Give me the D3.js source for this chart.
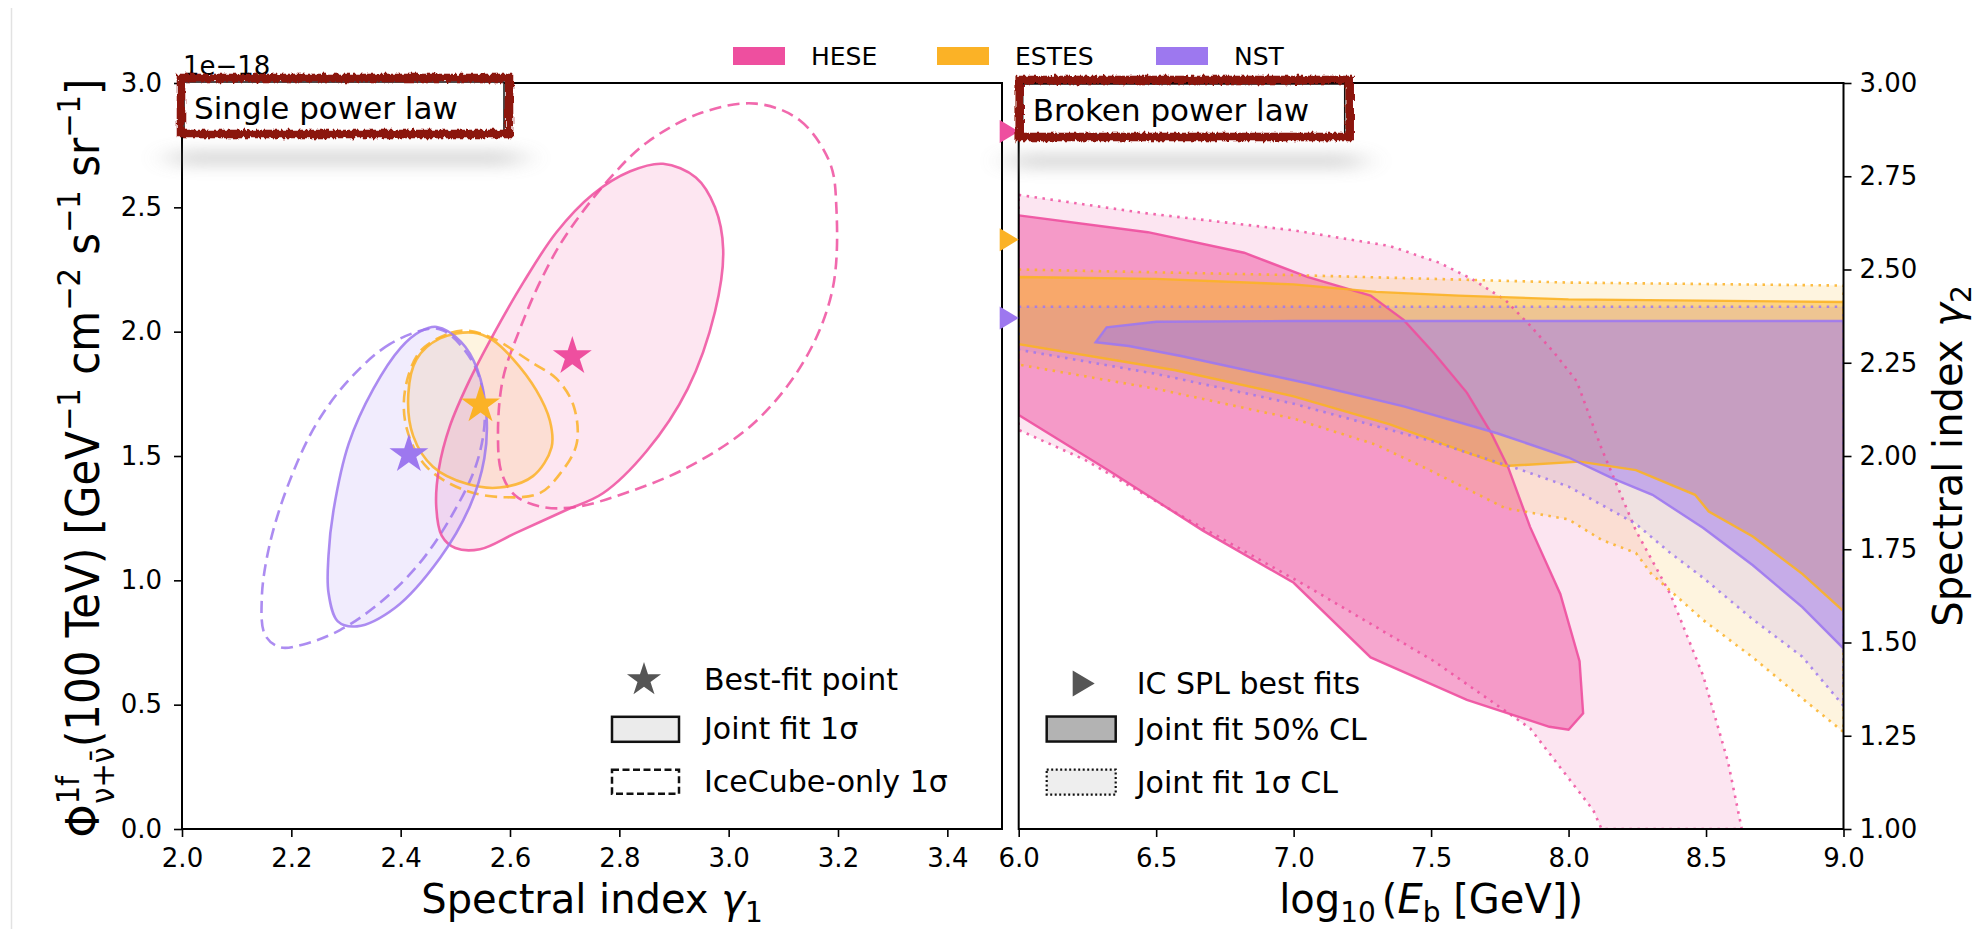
<!DOCTYPE html>
<html><head><meta charset="utf-8">
<script src="https://cdn.jsdelivr.net/npm/d3@7"></script>
<style>
body{margin:0;background:#fff;}
svg text{font-family:"DejaVu Sans",sans-serif;fill:#000;}
</style></head>
<body><svg id="c" width="1986" height="929"></svg>
<script>
// ---------------- data ----------------
const datasets = ["HESE", "ESTES", "NST"];
const colors = ["#ee4f9f", "#fbb226", "#9d78ef"];
const xTicksL = [2.0, 2.2, 2.4, 2.6, 2.8, 3.0, 3.2, 3.4];
const yTicksL = [0.0, 0.5, 1.0, 1.5, 2.0, 2.5, 3.0];
const xTicksR = [6.0, 6.5, 7.0, 7.5, 8.0, 8.5, 9.0];
const yTicksR = [1.00, 1.25, 1.50, 1.75, 2.00, 2.25, 2.50, 2.75, 3.00];

// best-fit points (gamma1, flux/1e-18)
const bestFit = [[2.714, 1.90], [2.546, 1.706], [2.415, 1.506]];
// IceCube SPL best-fit spectral indices
const splGamma = [2.87, 2.58, 2.37];

// Single power law: joint fit 1 sigma contours
const heseJoint = [[2.88,2.675],[2.94,2.62],[2.975,2.50],[2.99,2.33],[2.975,2.08],[2.925,1.77],[2.85,1.52],[2.77,1.35],[2.70,1.28],[2.61,1.19],[2.545,1.125],[2.50,1.13],[2.475,1.18],[2.465,1.30],[2.47,1.45],[2.49,1.62],[2.525,1.80],[2.57,1.99],[2.625,2.20],[2.685,2.40],[2.75,2.55],[2.82,2.645]];
const estesJoint = [[2.533,1.996],[2.472,1.973],[2.429,1.889],[2.414,1.75],[2.423,1.58],[2.459,1.457],[2.521,1.388],[2.581,1.373],[2.642,1.419],[2.676,1.535],[2.673,1.642],[2.648,1.765],[2.606,1.889],[2.569,1.965]];
const nstJoint = [[2.466,2.019],[2.51,1.96],[2.54,1.85],[2.557,1.66],[2.553,1.49],[2.527,1.30],[2.472,1.09],[2.39,0.89],[2.32,0.815],[2.285,0.835],[2.268,0.95],[2.268,1.10],[2.277,1.28],[2.305,1.55],[2.35,1.77],[2.40,1.935],[2.435,2.0]];
// Single power law: IceCube-only 1 sigma contours
const heseIC = [[3.05,2.917],[3.13,2.85],[3.185,2.68],[3.197,2.50],[3.19,2.17],[3.14,1.89],[3.05,1.64],[2.93,1.46],[2.81,1.35],[2.72,1.295],[2.66,1.295],[2.61,1.34],[2.585,1.43],[2.578,1.58],[2.587,1.81],[2.618,2.01],[2.655,2.20],[2.70,2.38],[2.78,2.61],[2.85,2.76],[2.95,2.88]];
const estesIC = [[2.521,2.004],[2.484,1.989],[2.435,1.919],[2.408,1.765],[2.411,1.611],[2.447,1.457],[2.52,1.36],[2.594,1.334],[2.654,1.35],[2.691,1.427],[2.722,1.55],[2.716,1.704],[2.685,1.811],[2.642,1.873],[2.569,1.973]];
const nstIC = [[2.453,2.012],[2.38,1.95],[2.307,1.81],[2.246,1.63],[2.197,1.40],[2.161,1.15],[2.146,0.93],[2.152,0.78],[2.179,0.731],[2.222,0.742],[2.289,0.80],[2.362,0.91],[2.435,1.07],[2.496,1.27],[2.539,1.47],[2.554,1.66],[2.542,1.83],[2.508,1.95],[2.478,2.004]];

// Broken power law: joint fit 50% CL regions (log10 Eb, gamma2)
const hese50 = [[6.0,2.645],[6.47,2.60],[6.82,2.545],[7.05,2.48],[7.28,2.43],[7.40,2.365],[7.51,2.276],[7.63,2.17],[7.72,2.06],[7.78,1.97],[7.86,1.81],[7.97,1.63],[8.04,1.45],[8.053,1.31],[8.0,1.266],[7.93,1.274],[7.63,1.346],[7.28,1.46],[7.0,1.66],[6.67,1.80],[6.33,1.96],[6.0,2.11]];
const estes50 = [[6.0,2.48],[6.5,2.475],[7.0,2.46],[7.3,2.44],[7.6,2.43],[8.0,2.42],[9.0,2.413],[9.0,1.584],[8.85,1.684],[8.67,1.784],[8.51,1.851],[8.46,1.896],[8.245,1.962],[8.04,1.985],[7.77,1.973],[7.59,2.02],[7.35,2.085],[7.0,2.16],[6.57,2.23],[6.0,2.30]];
const nst50 = [[6.28,2.305],[6.32,2.345],[6.5,2.36],[7.0,2.362],[8.0,2.362],[9.0,2.362],[9.0,1.484],[8.85,1.595],[8.67,1.707],[8.49,1.807],[8.305,1.896],[8.16,1.94],[8.0,1.996],[7.74,2.061],[7.40,2.133],[7.05,2.195],[6.59,2.268],[6.40,2.295]];
// Broken power law: joint fit 1 sigma CL regions
const hese1s = [[6.0,2.70],[6.45,2.652],[7.0,2.605],[7.35,2.563],[7.53,2.518],[7.65,2.474],[7.77,2.418],[7.86,2.35],[7.95,2.275],[8.03,2.20],[8.12,2.02],[8.245,1.80],[8.37,1.63],[8.49,1.41],[8.58,1.18],[8.63,1.0],[8.12,1.0],[8.09,1.05],[7.86,1.27],[7.51,1.45],[7.05,1.65],[6.59,1.84],[6.24,1.99],[6.0,2.07]];
const estes1s = [[6.0,2.50],[7.0,2.485],[8.0,2.465],[9.0,2.457],[9.0,1.26],[8.85,1.35],[8.67,1.46],[8.49,1.56],[8.3,1.685],[8.245,1.74],[8.12,1.775],[8.0,1.83],[7.77,1.86],[7.5,1.96],[7.3,2.03],[7.0,2.10],[6.5,2.18],[6.0,2.245]];
const nst1s = [[6.0,2.40],[9.0,2.40],[9.0,1.33],[8.85,1.462],[8.67,1.562],[8.49,1.673],[8.37,1.74],[8.245,1.818],[8.0,1.918],[7.83,1.962],[7.5,2.04],[7.0,2.14],[6.5,2.22],[6.0,2.285]];

const jointSPL = [heseJoint, estesJoint, nstJoint];
const icSPL = [heseIC, estesIC, nstIC];
const bpl50 = [hese50, estes50, nst50];
const bpl1s = [hese1s, estes1s, nst1s];

// ---------------- layout ----------------
const svg = d3.select("#c");
const L = {x0: 182, x1: 1002, y0: 83, y1: 829};
const R = {x0: 1018.7, x1: 1843.5, y0: 83, y1: 829};
const xL = d3.scaleLinear().domain([2.0, 3.5]).range([L.x0, L.x1]);
const yL = d3.scaleLinear().domain([0, 3]).range([L.y1, L.y0]);
const xR = d3.scaleLinear().domain([6, 9]).range([R.x0, R.x1]);
const yR = d3.scaleLinear().domain([1, 3]).range([R.y1, R.y0]);

const defs = svg.append("defs");
defs.append("clipPath").attr("id", "clipL").append("rect")
  .attr("x", L.x0).attr("y", L.y0).attr("width", L.x1 - L.x0).attr("height", L.y1 - L.y0);
defs.append("clipPath").attr("id", "clipR").append("rect")
  .attr("x", R.x0).attr("y", R.y0).attr("width", R.x1 - R.x0).attr("height", R.y1 - R.y0);
const rough = defs.append("filter").attr("id", "rough")
  .attr("x", "-5%").attr("y", "-30%").attr("width", "110%").attr("height", "160%");
rough.append("feTurbulence").attr("type", "fractalNoise").attr("baseFrequency", "0.35 0.09")
  .attr("numOctaves", 2).attr("seed", 3).attr("result", "n");
rough.append("feDisplacementMap").attr("in", "SourceGraphic").attr("in2", "n")
  .attr("scale", 6).attr("xChannelSelector", "R").attr("yChannelSelector", "G");
const blur = defs.append("filter").attr("id", "blurF")
  .attr("x", "-30%").attr("y", "-400%").attr("width", "160%").attr("height", "900%");
blur.append("feGaussianBlur").attr("stdDeviation", "16 8");

// faint page edge line
svg.append("line").attr("x1", 11.5).attr("x2", 11.5).attr("y1", 8).attr("y2", 929)
  .attr("stroke", "#e2e2e2").attr("stroke-width", 1.5);

// ---------------- left panel ----------------
const gL = svg.append("g");
const gLc = gL.append("g").attr("clip-path", "url(#clipL)");
const closedL = d3.line().x(d => xL(d[0])).y(d => yL(d[1])).curve(d3.curveCatmullRomClosed.alpha(0.5));

jointSPL.forEach((c, i) => {
  gLc.append("path").attr("d", closedL(c)).attr("fill", colors[i]).attr("fill-opacity", 0.14).attr("stroke", "none");
});
icSPL.forEach((c, i) => {
  gLc.append("path").attr("d", closedL(c)).attr("fill", "none").attr("stroke", colors[i])
    .attr("stroke-opacity", 0.85).attr("stroke-width", 2.6).attr("stroke-dasharray", "12,6.5");
});
jointSPL.forEach((c, i) => {
  gLc.append("path").attr("d", closedL(c)).attr("fill", "none").attr("stroke", colors[i])
    .attr("stroke-opacity", 0.85).attr("stroke-width", 2.6);
});
const star = d3.symbol().type(d3.symbolStar).size(470);
gL.selectAll(".bf").data(bestFit).join("path").attr("class", "bf")
  .attr("d", star).attr("transform", d => `translate(${xL(d[0])},${yL(d[1])})`)
  .attr("fill", (d, i) => colors[i]);

// axes left
const axBL = gL.append("g").attr("transform", `translate(0,${L.y1})`)
  .call(d3.axisBottom(xL).tickValues(xTicksL).tickFormat(d3.format(".1f")).tickSize(8).tickPadding(12).tickSizeOuter(0));
const axLL = gL.append("g").attr("transform", `translate(${L.x0},0)`)
  .call(d3.axisLeft(yL).tickValues(yTicksL).tickFormat(d3.format(".1f")).tickSize(8).tickPadding(12).tickSizeOuter(0));
[axBL, axLL].forEach(a => {
  a.selectAll("text").attr("font-size", 26).attr("font-family", "DejaVu Sans");
  a.selectAll("line").attr("stroke-width", 1.6);
  a.select(".domain").remove();
});
gL.append("rect").attr("x", L.x0).attr("y", L.y0).attr("width", L.x1 - L.x0).attr("height", L.y1 - L.y0)
  .attr("fill", "none").attr("stroke", "#000").attr("stroke-width", 2);
gL.append("text").attr("x", L.x0 + 1).attr("y", L.y0 - 8).attr("font-size", 26).text("1e\u221218");

// left legend
const legL = gL.append("g");
const lx = xL(2.0) + 430, ly = yL(0.6);
legL.append("path").attr("d", d3.symbol().type(d3.symbolStar).size(360)())
  .attr("transform", `translate(${lx + 32},${ly})`).attr("fill", "#555");
legL.append("text").attr("x", lx + 92).attr("y", ly + 10).attr("font-size", 30).text("Best-fit point");
legL.append("rect").attr("x", lx).attr("y", ly + 37).attr("width", 67).attr("height", 25)
  .attr("fill", "#ebebeb").attr("stroke", "#111").attr("stroke-width", 2.5);
legL.append("text").attr("x", lx + 92).attr("y", ly + 59).attr("font-size", 30).text("Joint fit 1\u03C3");
legL.append("rect").attr("x", lx).attr("y", ly + 90).attr("width", 67).attr("height", 24)
  .attr("fill", "#fff").attr("stroke", "#111").attr("stroke-width", 2.5).attr("stroke-dasharray", "7,3.5");
legL.append("text").attr("x", lx + 92).attr("y", ly + 112).attr("font-size", 30).text("IceCube-only 1\u03C3");

// left labels
const xlabL = gL.append("text").attr("x", (L.x0 + L.x1) / 2).attr("y", 913).attr("text-anchor", "middle").attr("font-size", 40);
xlabL.append("tspan").text("Spectral index ");
xlabL.append("tspan").attr("font-style", "italic").text("\u03B3");
xlabL.append("tspan").attr("font-size", 28).attr("dy", 9).text("1");

const ylabL = gL.append("text").attr("transform", `translate(99,${(L.y0 + L.y1) / 2 + 2}) rotate(-90) scale(1,1.12)`)
  .attr("text-anchor", "middle").attr("font-size", 42);
ylabL.append("tspan").text("\u03A6");
ylabL.append("tspan").attr("font-size", 29).attr("dy", -18).text("1f");
ylabL.append("tspan").attr("font-size", 29).attr("dx", -28).attr("dy", 31).text("\u03BD+\u03BD\u0304");
ylabL.append("tspan").attr("dy", -13).text("(100 TeV) [GeV");
ylabL.append("tspan").attr("font-size", 29).attr("dy", -17).text("\u22121");
ylabL.append("tspan").attr("dy", 17).text(" cm");
ylabL.append("tspan").attr("font-size", 29).attr("dy", -17).text("\u22122");
ylabL.append("tspan").attr("dy", 17).text(" s");
ylabL.append("tspan").attr("font-size", 29).attr("dy", -17).text("\u22121");
ylabL.append("tspan").attr("dy", 17).text(" sr");
ylabL.append("tspan").attr("font-size", 29).attr("dy", -17).text("\u22121");
ylabL.append("tspan").attr("dy", 17).text("]");

// ---------------- right panel ----------------
const gR = svg.append("g");
const gRc = gR.append("g").attr("clip-path", "url(#clipR)");
const closedR = d3.line().x(d => xR(d[0])).y(d => yR(d[1])).curve(d3.curveLinearClosed);
datasets.forEach((name, i) => {
  gRc.append("path").attr("d", closedR(bpl1s[i])).attr("fill", colors[i]).attr("fill-opacity", 0.15).attr("stroke", "none");
  gRc.append("path").attr("d", closedR(bpl50[i])).attr("fill", colors[i]).attr("fill-opacity", 0.5).attr("stroke", "none");
});
datasets.forEach((name, i) => {
  gRc.append("path").attr("d", closedR(bpl1s[i])).attr("fill", "none").attr("stroke", colors[i])
    .attr("stroke-opacity", 0.85).attr("stroke-width", 2.6).attr("stroke-dasharray", "2.5,5.5");
  gRc.append("path").attr("d", closedR(bpl50[i])).attr("fill", "none").attr("stroke", colors[i])
    .attr("stroke-opacity", 0.9).attr("stroke-width", 2.4);
});

const axBR = gR.append("g").attr("transform", `translate(0,${R.y1})`)
  .call(d3.axisBottom(xR).tickValues(xTicksR).tickFormat(d3.format(".1f")).tickSize(8).tickPadding(12).tickSizeOuter(0));
const axRR = gR.append("g").attr("transform", `translate(${R.x1},0)`)
  .call(d3.axisRight(yR).tickValues(yTicksR).tickFormat(d3.format(".2f")).tickSize(8).tickPadding(8).tickSizeOuter(0));
[axBR, axRR].forEach(a => {
  a.selectAll("text").attr("font-size", 26).attr("font-family", "DejaVu Sans");
  a.selectAll("line").attr("stroke-width", 1.6);
  a.select(".domain").remove();
});
gR.append("rect").attr("x", R.x0).attr("y", R.y0).attr("width", R.x1 - R.x0).attr("height", R.y1 - R.y0)
  .attr("fill", "none").attr("stroke", "#000").attr("stroke-width", 2);

// IC SPL best-fit triangles at left edge
gR.selectAll(".tri").data(splGamma).join("path").attr("class", "tri")
  .attr("d", d => { const tx = xR(6.0), ty = yR(d); return `M${tx - 19},${ty - 11.5}L${tx},${ty}L${tx - 19},${ty + 11.5}Z`; })
  .attr("fill", (d, i) => colors[i]);

// right legend
const legR = gR.append("g");
const rx = xR(6.0) + 28, ry = yR(1.39);
legR.append("path").attr("d", `M${rx + 26},${ry - 13}L${rx + 48},${ry}L${rx + 26},${ry + 13}Z`).attr("fill", "#555");
legR.append("text").attr("x", rx + 90).attr("y", ry + 10).attr("font-size", 30).text("IC SPL best fits");
legR.append("rect").attr("x", rx).attr("y", ry + 33).attr("width", 69).attr("height", 25)
  .attr("fill", "#b3b3b3").attr("stroke", "#111").attr("stroke-width", 2.5);
legR.append("text").attr("x", rx + 90).attr("y", ry + 56).attr("font-size", 30).text("Joint fit 50% CL");
legR.append("rect").attr("x", rx).attr("y", ry + 86).attr("width", 69).attr("height", 25)
  .attr("fill", "#eeeeee").attr("stroke", "#111").attr("stroke-width", 2.2).attr("stroke-dasharray", "2,2.5");
legR.append("text").attr("x", rx + 90).attr("y", ry + 109).attr("font-size", 30).text("Joint fit 1\u03C3 CL");

// right labels
const xlabR = gR.append("text").attr("x", (R.x0 + R.x1) / 2).attr("y", 913).attr("text-anchor", "middle").attr("font-size", 40);
xlabR.append("tspan").text("log");
xlabR.append("tspan").attr("font-size", 28).attr("dy", 9).text("10");
xlabR.append("tspan").attr("dy", -9).attr("dx", 6).text("(");
xlabR.append("tspan").attr("font-style", "italic").text("E");
xlabR.append("tspan").attr("font-size", 28).attr("dy", 9).text("b");
xlabR.append("tspan").attr("dy", -9).text(" [GeV])");

const ylabR = gR.append("text").attr("transform", `translate(1962,${(R.y0 + R.y1) / 2}) rotate(-90)`)
  .attr("text-anchor", "middle").attr("font-size", 40);
ylabR.append("tspan").text("Spectral index ");
ylabR.append("tspan").attr("font-style", "italic").text("\u03B3");
ylabR.append("tspan").attr("font-size", 28).attr("dy", 9).text("2");

// ---------------- title boxes ----------------
function titleBox(x0, y0, w, h, label) {
  const g = svg.append("g");
  g.append("rect").attr("x", x0 - 10).attr("y", y0 + h + 18).attr("width", w + 20).attr("height", 12)
    .attr("fill", "#8a8a8a").attr("opacity", 0.42).attr("filter", "url(#blurF)");
  g.append("rect").attr("x", x0 + 2).attr("y", y0 + 4).attr("width", w - 8).attr("height", h - 6)
    .attr("fill", "#fff").attr("stroke", "#111").attr("stroke-width", 1.5);
  g.append("rect").attr("x", x0 - 1).attr("y", y0).attr("width", w).attr("height", h)
    .attr("fill", "none").attr("stroke", "#8b1208").attr("stroke-width", 8.5).attr("filter", "url(#rough)");
  g.append("text").attr("x", x0 + 12).attr("y", y0 + 41).attr("font-size", 31).text(label);
}
titleBox(L.x0, 78, 328, 56, "Single power law");
titleBox(R.x0 + 2, 80, 330, 57, "Broken power law");

// ---------------- top legend ----------------
const legT = svg.append("g");
const legX = [733, 937, 1156];
datasets.forEach((name, i) => {
  legT.append("rect").attr("x", legX[i]).attr("y", 47).attr("width", 52).attr("height", 18).attr("fill", colors[i]);
  legT.append("text").attr("x", legX[i] + 78).attr("y", 65).attr("font-size", 25).text(name);
});
</script>
</body></html>
